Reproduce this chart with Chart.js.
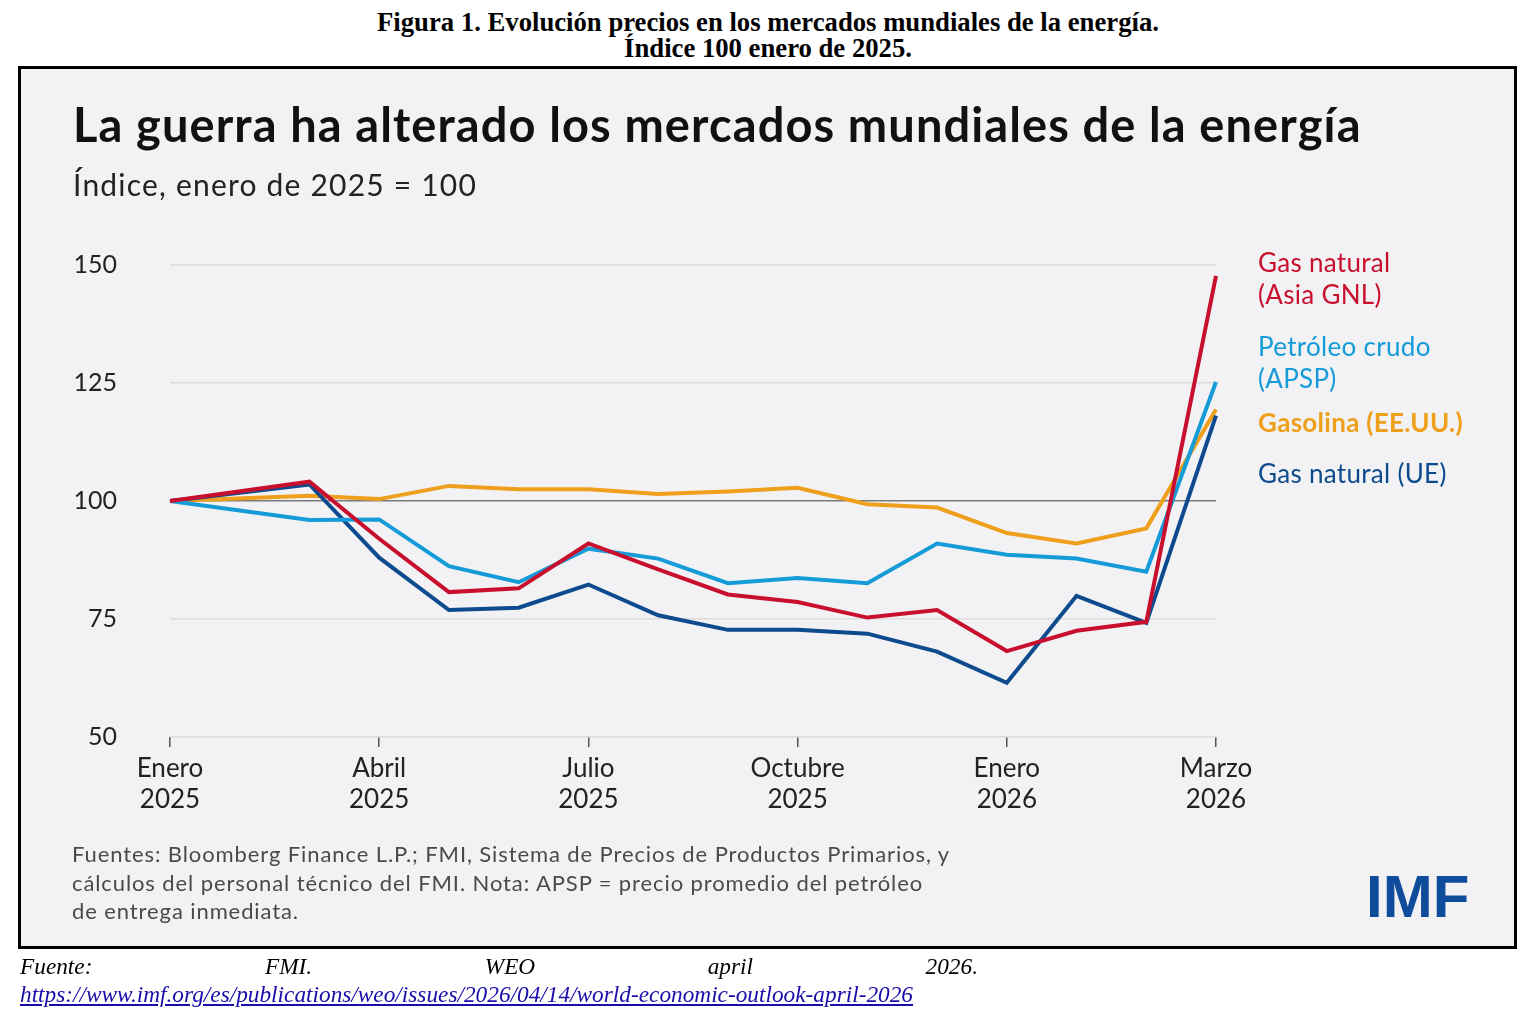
<!DOCTYPE html>
<html lang="es">
<head>
<meta charset="utf-8">
<title>Evolución precios energía</title>
<script src="https://cdn.jsdelivr.net/npm/chart.js@4.4.1/dist/chart.umd.min.js"></script>
<style>
  html, body { margin: 0; padding: 0; background: #fff; }
  body { width: 1536px; height: 1024px; position: relative; overflow: hidden; font-family: Lato, "Noto Sans", sans-serif; }
  .fig-title { position: absolute; left: 0; width: 1536px; top: 9px; text-align: center;
    font-family: "Liberation Serif", "DejaVu Serif", serif; font-weight: bold; font-size: 26.7px; line-height: 26px; color: #000; }
  .box { position: absolute; left: 18px; top: 66px; width: 1493px; height: 877px; border: 3px solid #000; background: #f2f2f4; }
  #myChart { position: absolute; left: 0; top: 0; }
  .title { position: absolute; left: 73px; top: 96px; font-weight: 700; font-size: 47px; letter-spacing: 1.1px; color: #111; white-space: nowrap; }
  .subtitle { position: absolute; left: 73px; top: 166px; font-size: 30px; letter-spacing: 1.2px; color: #222; white-space: nowrap; }
  .lab { position: absolute; left: 1258px; font-size: 26px; letter-spacing: 0.3px; line-height: 32px; white-space: nowrap; }
  .note { position: absolute; left: 72px; top: 840px; font-size: 22px; letter-spacing: 0.9px; line-height: 28.5px; color: #4a4a4a; white-space: nowrap; }
  .logo { position: absolute; left: 1366px; top: 862px; font-family: "Liberation Sans", Arial, sans-serif; font-weight: bold; font-size: 60px; color: #0f4d9c; }
  .src { position: absolute; left: 20px; width: 958px; top: 953px; display: flex; justify-content: space-between;
    font-family: "Liberation Serif", serif; font-style: italic; font-size: 23.3px; color: #000; }
  .url { position: absolute; left: 20px; top: 981px; font-family: "Liberation Serif", serif; font-style: italic; font-size: 23.3px; color: #1a0dab; text-decoration: underline; }
</style>
</head>
<body>
<div class="fig-title">Figura 1. Evolución precios en los mercados mundiales de la energía.<br>Índice 100 enero de 2025.</div>
<div class="box"></div>
<canvas id="myChart" width="1536" height="1024"></canvas>
<div class="title">La guerra ha alterado los mercados mundiales de la energía</div>
<div class="subtitle">Índice, enero de 2025 = 100</div>
<div class="lab" style="top:246px;color:#c8102e">Gas natural<br>(Asia GNL)</div>
<div class="lab" style="top:330px;color:#159bd7">Petróleo crudo<br>(APSP)</div>
<div class="lab" style="top:406px;color:#ee9f1c;font-weight:700">Gasolina (EE.UU.)</div>
<div class="lab" style="top:457px;color:#0d4a8e">Gas natural (UE)</div>
<div class="note">Fuentes: Bloomberg Finance L.P.; FMI, Sistema de Precios de Productos Primarios, y<br>cálculos del personal técnico del FMI. Nota: APSP = precio promedio del petróleo<br>de entrega inmediata.</div>
<div class="logo">IMF</div>
<div class="src"><span>Fuente:</span><span>FMI.</span><span>WEO</span><span>april</span><span>2026.</span></div>
<div class="url">https://www.imf.org/es/publications/weo/issues/2026/04/14/world-economic-outlook-april-2026</div>

<script>
// etiquetas del eje x (vacías donde no hay rótulo)
var xLabels = [['Enero', '2025'], '', '', ['Abril', '2025'], '', '', ['Julio', '2025'], '', '',
  ['Octubre', '2025'], '', '', ['Enero', '2026'], '', '', ['Marzo', '2026']];

var yTicks = [50, 75, 100, 125, 150];

// series (índice, enero 2025 = 100)
var gasAsia = [100, null, 104.1, 92.0, 80.7, 81.5, 91.0, 85.5, 80.2, 78.6, 75.3, 76.9, 68.2, 72.5, 74.4, 147.7];
var petroleo = [100, null, 96.0, 96.1, 86.2, 82.8, 89.9, 87.8, 82.6, 83.7, 82.6, 91.0, 88.6, 87.8, 85.0, 125.2];
var gasolina = [100, null, 101.1, 100.4, 103.2, 102.5, 102.5, 101.5, 102.0, 102.8, 99.3, 98.6, 93.2, 91.0, 94.2, 119.4];
var gasUE = [100, null, 103.5, 88.0, 76.9, 77.4, 82.3, 75.8, 72.7, 72.7, 71.9, 68.1, 61.5, 79.9, 74.2, 118.1];

var ctx = document.getElementById('myChart').getContext('2d');

function serie(label, data, color) {
  return {
    label: label,
    data: data,
    borderColor: color,
    backgroundColor: color,
    borderWidth: 4,
    pointRadius: 0,
    tension: 0,
    spanGaps: true
  };
}

var myChart = new Chart(ctx, {
  type: 'line',
  data: {
    labels: xLabels,
    datasets: [
      serie('Gas natural (Asia GNL)', gasAsia, '#c8102e'),
      serie('Petróleo crudo (APSP)', petroleo, '#159bd7'),
      serie('Gas natural (UE)', gasUE, '#0d4a8e'),
      serie('Gasolina (EE.UU.)', gasolina, '#ee9f1c')
    ]
  },
  options: {
    responsive: false,
    animation: false,
    layout: { padding: { left: 70, right: 320, top: 265, bottom: 197 } },
    plugins: { legend: { display: false }, tooltip: { enabled: false } },
    scales: {
      x: {
        offset: false,
        afterFit: function (s) { s.height = 90; },
        border: { display: false },
        grid: {
          drawOnChartArea: false,
          drawTicks: true,
          tickLength: 10,
          lineWidth: 1.5,
          color: function (c) { return xLabels[c.index] ? '#555' : 'rgba(0,0,0,0)'; }
        },
        ticks: {
          autoSkip: false,
          maxRotation: 0,
          padding: 6,
          color: '#222',
          font: { family: 'Lato', size: 26, lineHeight: 1.2 }
        }
      },
      y: {
        min: 50,
        max: 150,
        afterFit: function (s) { s.width = 100; },
        afterBuildTicks: function (s) { s.ticks = yTicks.map(function (v) { return { value: v }; }); },
        border: { display: false },
        grid: {
          drawTicks: false,
          lineWidth: 1.5,
          color: function (c) { return c.tick && c.tick.value === 100 ? '#7a7a7a' : '#dcdcdc'; }
        },
        ticks: {
          padding: 53,
          color: '#222',
          font: { family: 'Lato', size: 25 }
        }
      }
    }
  }
});
</script>
</body>
</html>
